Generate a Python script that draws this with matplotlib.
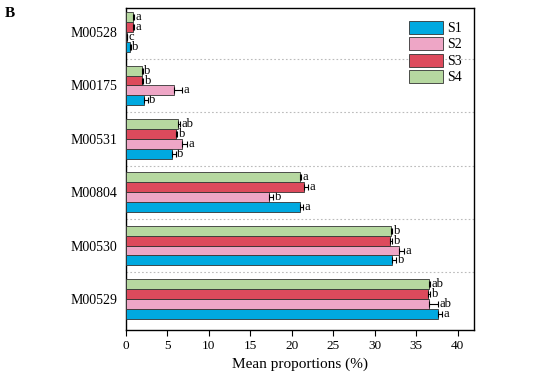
import numpy as np
import matplotlib.pyplot as plt

plt.rcParams['font.family'] = ['Liberation Serif', 'DejaVu Serif']

modules = ["M00529", "M00530", "M00804", "M00531", "M00175", "M00528"]
series = ["S1", "S2", "S3", "S4"]
colors = ["#00a9e0", "#eea6c6", "#dd4a5c", "#b6d8a0"]

# mean proportions (%) per series, in module order
s1 = [37.7, 32.1, 21.0, 5.6, 2.2, 0.45]
s2 = [36.5, 32.9, 17.3, 6.8, 5.8, 0.1]
s3 = [36.4, 31.9, 21.5, 6.0, 1.9, 0.8]
s4 = [36.6, 32.0, 21.0, 6.3, 1.9, 0.9]
values = [s1, s2, s3, s4]

err1 = [0.4, 0.5, 0.3, 0.4, 0.4, 0.1]
err2 = [1.1, 0.6, 0.5, 0.6, 1.0, 0.05]
err3 = [0.3, 0.2, 0.5, 0.2, 0.2, 0.2]
err4 = [0.1, 0.1, 0.1, 0.2, 0.1, 0.1]
errors = [err1, err2, err3, err4]

let1 = ["a", "b", "a", "b", "b", "b"]
let2 = ["ab", "a", "b", "a", "a", "c"]
let3 = ["b", "b", "a", "b", "b", "a"]
let4 = ["ab", "b", "a", "ab", "b", "a"]
letters = [let1, let2, let3, let4]

fig = plt.figure(figsize=(5.5, 3.85), dpi=100)
ax = fig.add_axes([0.229, 0.143, 0.633, 0.836])

y = np.arange(len(modules))
h = 0.185
for i, name in enumerate(series):
    pos = y + (i - 1.5) * h
    ax.barh(pos, values[i], height=h, color=colors[i], edgecolor="#333333",
            linewidth=0.6, label=name, zorder=3)
    ax.errorbar(values[i], pos, xerr=[np.zeros(len(modules)), errors[i]],
                fmt="none", ecolor="black", elinewidth=0.8, capsize=2.5,
                capthick=0.8, zorder=4)
    for v, e, p, t in zip(values[i], errors[i], pos, letters[i]):
        ax.text(v + e + 0.2, p, t, va="center", ha="left", fontsize=9)

# dotted separators between module groups
for k in range(len(modules) - 1):
    ax.axhline(k + 0.5, color="#bbbbbb", linestyle=(0, (1.5, 2)), linewidth=0.8, zorder=1)

ax.set_xlim(0, 42)
ax.set_ylim(-0.58, 5.45)
ax.set_xticks(np.arange(0, 41, 5))
ax.set_yticks(y)
ax.set_yticklabels(modules, fontsize=10)
ax.tick_params(axis="y", length=0, pad=6)
ax.tick_params(axis="x", direction="out", length=4, labelsize=9.5)
for sp in ax.spines.values():
    sp.set_linewidth(1.0)
ax.set_xlabel("Mean proportions (%)", fontsize=11)

ax.legend(loc="upper right", frameon=False, fontsize=10, handlelength=2.4,
          handleheight=1.1, labelspacing=0.15, borderaxespad=0.5, handletextpad=0.3)

fig.text(0.008, 0.965, "B", fontsize=11, fontweight="bold", va="center")

fig.savefig("out.png", dpi=100)
